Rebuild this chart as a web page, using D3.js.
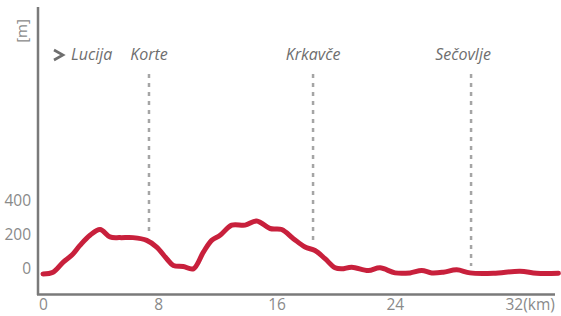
<!DOCTYPE html>
<html>
<head>
<meta charset="utf-8">
<script src="https://cdn.jsdelivr.net/npm/d3@7"></script>
<style>
  body { margin: 0; background: #fff; }
  svg { display: block; }
  text { font-family: "Open Sans", "DejaVu Sans", sans-serif; }
</style>
</head>
<body>
<script>
    // profile: distance (km) and elevation (m)
    var distKm = [0, 0.68, 1.37, 1.94, 2.5, 3.18, 3.86, 4.53, 5.21, 6.09, 7.02, 7.69, 8.37, 8.82, 9.49, 10.17,
                  10.85, 11.41, 11.98, 12.77, 13.67, 14.46, 15.36, 16.15, 16.94, 17.73, 18.4, 19.08, 19.76, 20.21,
                  20.89, 22.01, 22.8, 23.82, 24.83, 25.62, 26.3, 27.08, 27.99, 28.89, 30.47, 32.27, 33.4, 34.87];
    var elevM = [-32, -22, 38, 78, 137, 197, 231, 187, 183, 183, 167, 127, 58, 18, 12, -2,
                 97, 167, 197, 257, 257, 282, 237, 231, 177, 127, 107, 58, 4, -2,
                 8, -12, 4, -26, -26, -12, -26, -22, -8, -26, -28, -16, -28, -28];

    var placeNames = ["Korte", "Krkavče", "Sečovlje"];
    var placeKm = [7.17, 18.27, 28.96];

    var xTicks = [0, 8, 16, 24, 32];
    var xTickLabels = ["0", "8", "16", "24", "32(km)"];
    var yTicks = [0, 200, 400];

    var w = 561, h = 316;

    var svg = d3.select("body").append("svg")
            .attr("width", w)
            .attr("height", h);

    var x = d3.scaleLinear().domain([0, 32]).range([43, 516]);
    var y = d3.scaleLinear().domain([0, 400]).range([268.5, 201]);

    var profile = distKm.map(function (d, i) { return {km: d, m: elevM[i]}; });

    // axis frame
    svg.append("line")
        .attr("x1", 38).attr("x2", 38).attr("y1", 7).attr("y2", 295)
        .attr("stroke", "#7a7a7a").attr("stroke-width", 2.5);
    svg.append("line")
        .attr("x1", 37).attr("x2", 555).attr("y1", 294.5).attr("y2", 294.5)
        .attr("stroke", "#7a7a7a").attr("stroke-width", 2.5);

    // y axis labels
    var yAxis = d3.axisLeft(y).tickValues(yTicks).tickSize(0).tickPadding(0);
    var gy = svg.append("g").attr("transform", "translate(31,0)").call(yAxis);
    gy.select(".domain").remove();
    gy.selectAll("text")
        .attr("fill", "#8a8a8a")
        .style("font-size", "15.5px")
        .style("font-family", "'Open Sans', sans-serif");

    // x axis labels
    var xAxis = d3.axisBottom(x).tickValues(xTicks).tickSize(0).tickPadding(0)
        .tickFormat(function (d, i) { return xTickLabels[i]; });
    var gx = svg.append("g").attr("transform", "translate(0,299)").call(xAxis);
    gx.select(".domain").remove();
    gx.selectAll("text")
        .attr("fill", "#8a8a8a")
        .style("font-size", "15.5px")
        .style("font-family", "'Open Sans', sans-serif")
        .attr("dx", function (d) { return d == 0 ? 0 : -3; });
    gx.selectAll("text").filter(function (d) { return d === 32; })
        .attr("text-anchor", "start")
        .attr("dx", -11);

    // unit label
    svg.append("text")
        .attr("transform", "translate(27,31) rotate(-90)")
        .attr("text-anchor", "middle")
        .attr("fill", "#8a8a8a")
        .style("font-size", "15px")
        .text("[m]");

    // place markers
    var bisect = d3.bisector(function (d) { return d.km; }).left;
    var elevAt = function (km) {
        var i = bisect(profile, km);
        var a = profile[i - 1], b = profile[i];
        var t = (km - a.km) / (b.km - a.km);
        return a.m + t * (b.m - a.m);
    };

    svg.selectAll("line.place")
        .data(placeKm)
        .enter().append("line")
        .attr("class", "place")
        .attr("x1", function (d) { return x(d); })
        .attr("x2", function (d) { return x(d); })
        .attr("y1", 74)
        .attr("y2", function (d) { return y(elevAt(d)) - 7; })
        .attr("stroke", "#a5a5a5")
        .attr("stroke-width", 2.5)
        .attr("stroke-dasharray", "4,5");

    svg.selectAll("text.place")
        .data(placeNames)
        .enter().append("text")
        .attr("class", "place")
        .attr("x", function (d, i) { return x(placeKm[i]) - (i == 2 ? 8 : 0); })
        .attr("y", 60)
        .attr("text-anchor", "middle")
        .attr("fill", "#6e6e6e")
        .style("font-size", "16px")
        .style("font-style", "italic")
        .text(function (d) { return d; });

    // start label with chevron
    svg.append("path")
        .attr("d", "M54,50 L63,55 L54,60")
        .attr("fill", "none")
        .attr("stroke", "#6e6e6e")
        .attr("stroke-width", 2.6);
    svg.append("text")
        .attr("x", 71).attr("y", 60)
        .attr("fill", "#6e6e6e")
        .style("font-size", "16px")
        .style("font-style", "italic")
        .text("Lucija");

    // elevation line
    var line = d3.line()
        .x(function (d) { return x(d.km); })
        .y(function (d) { return y(d.m); })
        .curve(d3.curveCatmullRom.alpha(0.5));

    svg.append("path")
        .datum(profile)
        .attr("d", line)
        .attr("fill", "none")
        .attr("stroke", "#c8203c")
        .attr("stroke-width", 5)
        .attr("stroke-linecap", "round")
        .attr("stroke-linejoin", "round");
</script>
</body>
</html>
